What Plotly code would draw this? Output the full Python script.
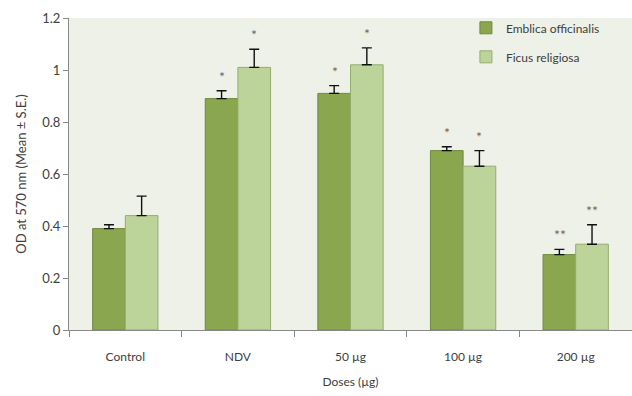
import plotly.graph_objects as go

doses = ["Control", "NDV", "50 µg", "100 µg", "200 µg"]
emblica = [0.39, 0.89, 0.91, 0.69, 0.29]
emblica_se = [0.015, 0.03, 0.03, 0.015, 0.02]
ficus = [0.44, 1.01, 1.02, 0.63, 0.33]
ficus_se = [0.075, 0.07, 0.065, 0.06, 0.075]
emblica_marks = ["", "*", "*", "*", "**"]
ficus_marks = ["", "*", "*", "*", "**"]

dark = "#8aa64f"
light = "#bcd39a"
txt = "#404040"
font = "Lato, 'Open Sans', sans-serif"

fig = go.Figure()
fig.add_trace(go.Bar(
    name="Emblica officinalis", x=doses, y=emblica, legendgroup="e",
    marker=dict(color=dark, line=dict(color="#6f8a3c", width=1)),
    error_y=dict(type="data", symmetric=False, array=emblica_se,
                 arrayminus=[0] * len(emblica_se), visible=True,
                 color="#111111", thickness=1.4, width=5),
    offsetgroup="e",
))
fig.add_trace(go.Bar(
    name="Ficus religiosa", x=doses, y=ficus, legendgroup="f",
    marker=dict(color=light, line=dict(color="#94ad6e", width=1)),
    error_y=dict(type="data", symmetric=False, array=ficus_se,
                 arrayminus=[0] * len(ficus_se), visible=True,
                 color="#111111", thickness=1.4, width=5),
    offsetgroup="f",
))

# significance markers above the error bars
for i, d in enumerate(doses):
    if emblica_marks[i]:
        fig.add_annotation(x=i, y=emblica[i] + emblica_se[i], xshift=-16,
                           text=emblica_marks[i], showarrow=False, yanchor="bottom",
                           yshift=4, font=dict(size=14, color="#666666", family=font))
    if ficus_marks[i]:
        fig.add_annotation(x=i, y=ficus[i] + ficus_se[i], xshift=16,
                           text=ficus_marks[i], showarrow=False, yanchor="bottom",
                           yshift=4, font=dict(size=14, color="#666666", family=font))

fig.update_layout(
    width=632, height=396,
    margin=dict(l=69, r=0, t=18, b=66),
    paper_bgcolor="white",
    plot_bgcolor="#eef1e7",
    barmode="group",
    bargap=0.42,
    bargroupgap=0,
    font=dict(family=font, size=11, color=txt),
    showlegend=True,
    legend=dict(x=0.705, y=1.015, xanchor="left", yanchor="top",
                bgcolor="rgba(0,0,0,0)", font=dict(size=12, color=txt),
                itemwidth=30, tracegroupgap=10),
    xaxis=dict(
        title=dict(text="Doses (µg)", standoff=14, font=dict(size=12, color=txt)),
        showline=True, linecolor="#888888", linewidth=1,
        ticks="outside", tickson="boundaries", ticklen=6, tickcolor="#888888",
        ticklabelstandoff=16,
        showgrid=False, tickfont=dict(size=12, color=txt),
    ),
    yaxis=dict(
        title=dict(text="OD at 570 nm (Mean ± S.E.)", standoff=12,
                   font=dict(size=13, color=txt)),
        range=[0, 1.2], dtick=0.2, tickformat="~g",
        showline=True, linecolor="#888888", linewidth=1,
        ticks="outside", ticklen=5, tickcolor="#888888",
        showgrid=False, zeroline=False, tickfont=dict(size=13, color=txt),
    ),
)

fig.write_html("out.html")
